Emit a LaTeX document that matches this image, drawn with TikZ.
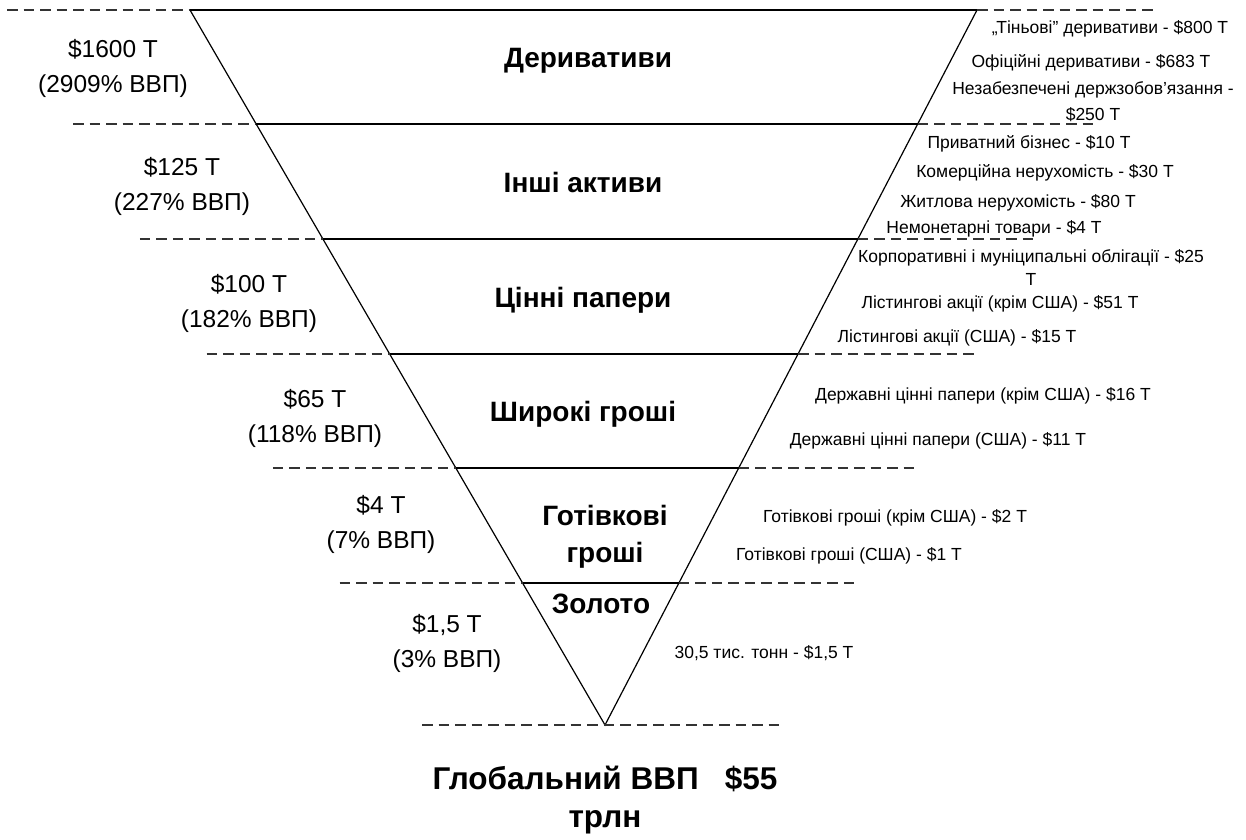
\documentclass[tikz,border=0pt]{standalone}
\usepackage{fontspec}
\setmainfont{Liberation Sans}
\usetikzlibrary{calc}

\begin{document}
\begin{tikzpicture}[x=1pt,y=-1pt,
  edge/.style={line width=1.2pt},
  level/.style={line width=1.6pt},
  guide/.style={line width=1.6pt, black!80, dash pattern=on 10.5pt off 6pt},
  share/.style={font=\fontsize{24.5}{35}\selectfont, align=center, inner sep=0pt, anchor=base},
  layer/.style={font=\fontsize{28}{37}\selectfont\bfseries, align=center, inner sep=0pt, anchor=base},
  item/.style={font=\fontsize{17.5}{23}\selectfont, align=center, inner sep=0pt, anchor=base},
  total/.style={font=\fontsize{31.5}{38}\selectfont\bfseries, align=center, inner sep=0pt, anchor=base}]

\useasboundingbox (0,0) rectangle (1246,839);

% inverted pyramid corners
\coordinate (L0) at (190,10);
\coordinate (R0) at (977,10);
\coordinate (C) at (605,725);

% where the layer boundaries cross the two sides
\foreach \n/\t in {1/0.15944,2/0.32028,3/0.48112,4/0.64056,5/0.80140} {
  \coordinate (L\n) at ($(L0)!\t!(C)$);
  \coordinate (R\n) at ($(R0)!\t!(C)$);
}

% sides and layer boundaries
\draw[edge] (L0) -- (C) -- (R0);
\foreach \n in {0,...,5} {
  \draw[level] (L\n) -- (R\n);
  \draw[guide] ($(L\n)+(-183,0)$) -- (L\n);
  \draw[guide] (R\n) -- ($(R\n)+(177,0)$);
}
\draw[guide] ($(C)+(-183,0)$) -- ($(C)+(177,0)$);

% volumes on the left (anchored at the baseline of the last line)
\node[share] (s1) at (113,92)  {\$1600 Т\\(2909\% ВВП)};
\node[share] (s2) at (182,210) {\$125 Т\\(227\% ВВП)};
\node[share] (s3) at (249,327) {\$100 Т\\(182\% ВВП)};
\node[share] (s4) at (315,442) {\$65 Т\\(118\% ВВП)};
\node[share] (s5) at (381,548) {\$4 Т\\(7\% ВВП)};
\node[share] (s6) at (447,667) {\$1,5 Т\\(3\% ВВП)};

% layer names
\node[layer] (n1) at (588,67)  {Деривативи};
\node[layer] (n2) at (583,192) {Інші активи};
\node[layer] (n3) at (583,307) {Цінні папери};
\node[layer] (n4) at (583,421) {Широкі гроші};
\node[layer] (n5) at (605,562) {Готівкові\\гроші};
\node[layer] (n6) at (601,613) {Золото};

% breakdown on the right
\node[item] (d1) at (1110,33)  {„Тіньові” деривативи - \$800 Т};
\node[item] (d2) at (1091,67)  {Офіційні деривативи - \$683 Т};
\node[item,font=\fontsize{17.5}{26}\selectfont] (d3) at (1093,120) {Незабезпечені держзобов’язання -\\\$250 Т};
\node[item] (a1) at (1029,148) {Приватний бізнес - \$10 Т};
\node[item] (a2) at (1045,177) {Комерційна нерухомість - \$30 Т};
\node[item] (a3) at (1018,207) {Житлова нерухомість - \$80 Т};
\node[item] (a4) at (994,233)  {Немонетарні товари - \$4 Т};
\node[item] (p1) at (1031,285) {Корпоративні і муніципальні облігації - \$25\\Т};
\node[item] (p2) at (1000,308) {Лістингові акції (крім США) - \$51 Т};
\node[item] (p3) at (957,342)  {Лістингові акції (США) - \$15 Т};
\node[item] (m1) at (983,400)  {Державні цінні папери (крім США) - \$16 Т};
\node[item] (m2) at (938,445)  {Державні цінні папери (США) - \$11 Т};
\node[item] (c1) at (895,522)  {Готівкові гроші (крім США) - \$2 Т};
\node[item] (c2) at (849,560)  {Готівкові гроші (США) - \$1 Т};
\node[item] (g1) at (764,658)  {30,5 тис. тонн - \$1,5 Т};

% total
\node[total] (gdp) at (605,827) {Глобальний ВВП\ \ \ \$55\\трлн};
\end{tikzpicture}
\end{document}
